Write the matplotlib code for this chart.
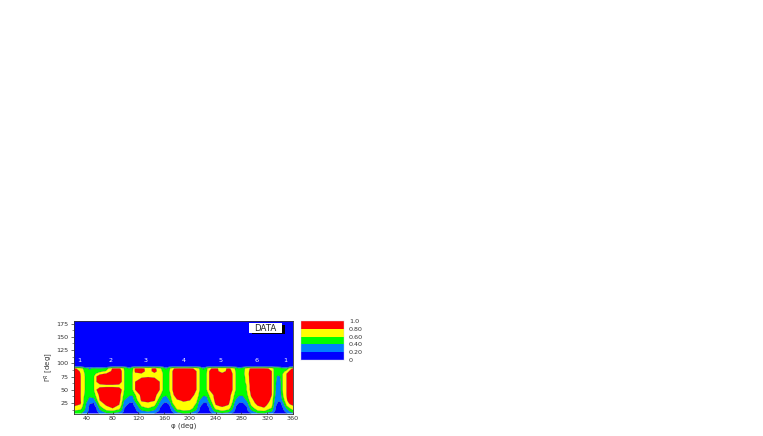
import numpy as np
import matplotlib
matplotlib.use('Agg')
import matplotlib.pyplot as plt
from matplotlib.patches import Rectangle

W, H = 763, 436

# phi columns (deg), placed on the contour edges, and theta rows (deg)
phi = [20, 30, 37, 44, 51, 55, 60, 70, 80, 90, 94, 98, 106, 111, 115, 125, 135, 145, 153, 158,
       163, 168, 173, 180, 190, 200, 210, 215, 221, 226, 230, 240, 250, 260, 266, 271, 276, 282,
       288, 295, 305, 315, 327, 330, 333, 337, 341, 344, 350, 355, 360]
theta = [5, 10, 15, 20, 25, 30, 40, 50, 57, 65, 75, 80, 85, 90, 92, 94, 96, 180]

z_05 = [.45,.42,.30,.12,.10,.14,.22,.36,.38,.30,.22,.14,.08,.06,.10,.22,.26,.20,.12,.08,.05,.08,.14,.30,.40,.38,.20,.12,.06,.08,.12,.30,.36,.30,.18,.12,.08,.07,.10,.20,.36,.38,.26,.18,.12,.08,.08,.10,.18,.28,.35]
z_10 = [.58,.55,.38,.14,.12,.18,.34,.56,.60,.50,.38,.18,.10,.08,.16,.38,.45,.36,.18,.10,.08,.12,.24,.50,.58,.56,.36,.18,.08,.10,.18,.50,.60,.52,.32,.16,.10,.08,.14,.36,.58,.62,.46,.26,.18,.10,.10,.14,.30,.44,.55]
z_15 = [.74,.68,.42,.14,.12,.20,.46,.74,.80,.68,.48,.20,.10,.10,.18,.52,.60,.50,.20,.10,.10,.14,.30,.68,.75,.72,.46,.20,.10,.10,.20,.68,.76,.70,.44,.18,.10,.10,.16,.48,.74,.78,.58,.34,.20,.10,.10,.18,.42,.60,.72]
z_20 = [.82,.76,.45,.18,.16,.28,.60,.80,.86,.78,.56,.24,.15,.14,.26,.64,.70,.62,.30,.15,.14,.18,.52,.72,.76,.74,.54,.24,.14,.15,.30,.78,.84,.78,.52,.22,.15,.14,.22,.60,.80,.86,.66,.40,.22,.14,.14,.24,.60,.74,.80]
z_25 = [.90,.84,.48,.21,.20,.40,.72,.88,.90,.84,.62,.30,.20,.18,.36,.74,.78,.72,.38,.22,.18,.26,.60,.74,.78,.76,.60,.30,.20,.20,.40,.84,.90,.84,.58,.28,.20,.19,.30,.68,.88,.90,.72,.44,.26,.18,.18,.32,.70,.85,.88]
z_30 = [.90,.82,.50,.34,.34,.54,.80,.90,.92,.88,.68,.40,.30,.28,.48,.84,.86,.82,.46,.30,.28,.40,.66,.78,.82,.80,.66,.40,.30,.30,.50,.88,.92,.88,.64,.38,.30,.30,.42,.74,.90,.92,.76,.48,.30,.22,.26,.46,.78,.88,.90]
z_40 = [.92,.81,.56,.44,.50,.68,.85,.90,.92,.88,.74,.52,.42,.42,.58,.88,.92,.88,.66,.46,.42,.50,.76,.90,.92,.90,.74,.54,.42,.44,.62,.90,.93,.90,.72,.50,.42,.42,.54,.82,.92,.94,.80,.56,.38,.28,.36,.58,.80,.90,.92]
z_50 = [.92,.81,.60,.50,.60,.80,.90,.92,.92,.90,.80,.60,.50,.60,.80,.92,.95,.92,.80,.60,.50,.60,.80,.92,.95,.92,.80,.60,.50,.60,.80,.92,.95,.92,.80,.60,.50,.45,.60,.88,.94,.94,.80,.60,.41,.30,.39,.60,.80,.90,.92]
z_57 = [.92,.81,.60,.50,.60,.68,.74,.75,.75,.74,.70,.60,.50,.60,.80,.92,.95,.92,.80,.60,.50,.60,.80,.92,.95,.92,.80,.60,.50,.60,.80,.92,.95,.92,.80,.60,.50,.45,.60,.88,.94,.94,.80,.60,.41,.30,.39,.60,.80,.90,.92]
z_65 = [.92,.81,.60,.50,.60,.80,.88,.92,.92,.90,.80,.60,.50,.60,.80,.92,.95,.92,.80,.60,.50,.60,.80,.92,.95,.92,.80,.60,.50,.60,.80,.92,.95,.92,.80,.60,.50,.48,.66,.90,.94,.94,.80,.60,.42,.32,.40,.60,.80,.90,.92]
z_75 = [.92,.81,.60,.50,.60,.80,.90,.92,.92,.90,.80,.60,.50,.60,.72,.76,.78,.76,.70,.60,.50,.60,.80,.92,.95,.92,.80,.60,.50,.60,.80,.92,.95,.92,.80,.60,.50,.50,.68,.90,.94,.94,.80,.60,.44,.36,.42,.60,.80,.90,.92]
z_80 = [.92,.80,.58,.50,.56,.62,.76,.82,.92,.90,.80,.60,.50,.60,.76,.78,.74,.76,.70,.60,.50,.60,.80,.92,.95,.92,.80,.60,.50,.60,.80,.90,.84,.90,.80,.60,.50,.52,.70,.90,.94,.94,.80,.60,.50,.46,.50,.60,.80,.90,.92]
z_85 = [.92,.78,.55,.42,.48,.50,.52,.62,.86,.88,.80,.60,.44,.58,.84,.88,.72,.86,.72,.56,.42,.58,.80,.90,.92,.90,.80,.60,.42,.58,.80,.86,.72,.86,.78,.58,.44,.50,.70,.88,.92,.92,.80,.60,.52,.50,.50,.52,.66,.84,.90]
z_90 = [.84,.72,.50,.38,.44,.42,.40,.50,.82,.84,.76,.58,.40,.55,.84,.86,.72,.86,.66,.52,.38,.55,.78,.84,.85,.84,.76,.58,.38,.54,.78,.84,.72,.84,.75,.55,.42,.48,.70,.84,.85,.85,.76,.58,.52,.50,.48,.46,.42,.70,.84]
z_92 = [.50,.48,.32,.20,.30,.24,.22,.30,.50,.52,.50,.46,.28,.44,.52,.54,.54,.54,.50,.40,.24,.42,.50,.52,.54,.52,.50,.44,.24,.42,.50,.52,.52,.50,.46,.40,.30,.36,.50,.54,.54,.54,.50,.46,.42,.40,.36,.30,.24,.44,.50]
z_94 = [.20,.18,.06,.04,.08,.05,.04,.08,.18,.20,.18,.14,.05,.12,.18,.20,.20,.20,.18,.12,.04,.12,.18,.20,.20,.20,.18,.12,.04,.12,.18,.20,.20,.18,.14,.10,.06,.08,.16,.20,.20,.20,.18,.14,.12,.10,.08,.06,.04,.12,.18]
z_96 = [.04] * 51
z_180 = [.01] * 51

z_rows = [z_05, z_10, z_15, z_20, z_25, z_30, z_40, z_50, z_57, z_65,
          z_75, z_80, z_85, z_90, z_92, z_94, z_96, z_180]

levels = [0, 0.2, 0.4, 0.6, 0.8, 1.0]
level_labels = ['0', '0.20', '0.40', '0.60', '0.80', '1.0']
colors = ['#0000ff', '#0080ff', '#00ff00', '#ffff00', '#ff0000']

x_ticks = [40, 80, 120, 160, 200, 240, 280, 320, 360]
y_ticks = [25, 50, 75, 100, 125, 150, 175]

sector_labels = ['1', '2', '3', '4', '5', '6', '1']
sector_phi = [28, 76, 131, 191, 248, 304, 348]


def axes_px(left, top, right, bottom):
    return [left / W, 1 - bottom / H, (right - left) / W, (bottom - top) / H]


fig = plt.figure(figsize=(W / 100, H / 100), dpi=100)
plt.rcParams['font.family'] = 'DejaVu Sans'
FS = 4.6
TC = '#333333'

# main contour panel
ax = fig.add_axes(axes_px(74, 321, 293, 413.5))
Z = np.array(z_rows)
ax.contourf(phi, theta, Z, levels=levels, colors=colors, antialiased=True)
ax.contour(phi, theta, Z, levels=levels[1:-1], colors='#222222', linewidths=0.25, alpha=0.6)
ax.set_xlim(20, 360)
ax.set_ylim(5, 180)
ax.set_xticks(x_ticks)
ax.set_yticks(y_ticks)
ax.set_yticks([12.5, 37.5, 62.5, 87.5, 112.5, 137.5, 162.5], minor=True)
ax.tick_params(axis='x', which='major', labelsize=FS, length=1.5, width=0.5,
               pad=1.5, colors=TC, direction='in')
ax.tick_params(axis='y', which='major', labelsize=FS, length=2.5, width=0.5,
               pad=1.5, colors=TC, direction='out')
ax.tick_params(axis='y', which='minor', length=1.2, width=0.4, color=TC, direction='out')
for s in ax.spines.values():
    s.set_linewidth(0.6)
    s.set_color('#333333')

ax.set_xlabel('\u03c6 (deg)', fontsize=FS + 0.4, color=TC, labelpad=1.5)
ax.set_ylabel('$\\Gamma^{R}$ [deg]', fontsize=FS + 0.4, color=TC, labelpad=1)

for lab, p in zip(sector_labels, sector_phi):
    ax.text(p, 105, lab, color='white', fontsize=FS, ha='center', va='center')

# DATA tag with its black drop shadow
ax.add_patch(Rectangle((0.815, 0.855), 0.148, 0.1, transform=ax.transAxes,
                       facecolor='black', edgecolor='none', zorder=4))
ax.add_patch(Rectangle((0.8, 0.875), 0.148, 0.1, transform=ax.transAxes,
                       facecolor='white', edgecolor='none', zorder=5))
ax.text(0.874, 0.923, 'DATA', transform=ax.transAxes, fontsize=FS + 1.6, color='#222222',
        ha='center', va='center', zorder=6)

# colour key
cax = fig.add_axes(axes_px(301, 321, 344, 360))
for i, c in enumerate(colors):
    cax.axhspan(levels[i], levels[i + 1], color=c, lw=0)
cax.set_xlim(0, 1)
cax.set_ylim(0, 1)
cax.set_xticks([])
cax.yaxis.tick_right()
cax.set_yticks(levels)
cax.set_yticklabels(level_labels)
cax.tick_params(axis='y', length=0, labelsize=FS, pad=3.5, colors=TC)
for s in cax.spines.values():
    s.set_linewidth(0.3)
    s.set_color('#ccccdd')

fig.savefig('out.png', dpi=100)
